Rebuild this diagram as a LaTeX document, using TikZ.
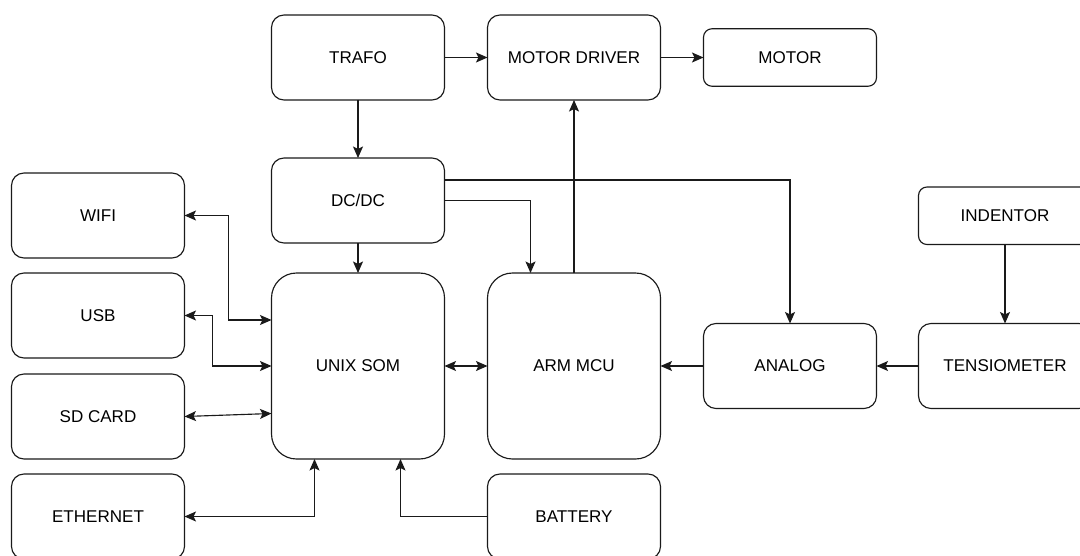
\documentclass[tikz,border=0pt]{standalone}
\usepackage{fontspec}
\setmainfont{Liberation Sans}
\usepackage{tikz}
\usetikzlibrary{
arrows.meta,
positioning
}
\definecolor{BDInk}{HTML}{000000}
\definecolor{BDLine}{HTML}{1A1A1A}
\tikzset{
bdblock/.style={draw=BDLine, line width=0.65pt, fill=white, rounded corners=2.5mm, align=center,
  minimum height=17mm, minimum width=34.6mm, outer sep=0pt, text=BDInk, font=\fontsize{9.7}{11}\selectfont},
bdflat/.style={bdblock, rounded corners=1.7mm, minimum height=11.5mm},
bdtall/.style={bdblock, rounded corners=5mm, minimum height=37.2mm},
bdarrow/.style={-{Stealth[length=2.3mm, width=2mm, inset=0.5mm]}, line width=0.65pt, draw=BDLine},
bdboth/.style={{Stealth[length=2.3mm, width=2mm, inset=0.5mm]}-{Stealth[length=2.3mm, width=2mm, inset=0.5mm]}, line width=0.65pt, draw=BDLine}
}

\begin{document}
\begin{tikzpicture}[node distance=8.6mm and 8.6mm]
\useasboundingbox (0,0) rectangle (21.6,-11.12);
\node[bdblock] (trafo) at (7.16,-1.15) {TRAFO};
\node[bdblock, right=of trafo] (mdrv) {MOTOR DRIVER};
\node[bdflat, right=of mdrv] (motor) {MOTOR};
\node[bdblock, below=11.6mm of trafo] (dcdc) {DC/DC};
\node[bdtall, below=6mm of dcdc] (unix) {UNIX SOM};
\node[bdtall, right=of unix] (arm) {ARM MCU};
\node[bdblock, below=3mm of arm] (battery) {BATTERY};
\node[bdblock, right=of arm] (analog) {ANALOG};
\node[bdblock, right=8.4mm of analog] (tensio) {TENSIOMETER};
\node[bdflat, above=15.8mm of tensio] (indentor) {INDENTOR};

\node[bdblock, anchor=north east] (usb) at ([xshift=-17.4mm]unix.north west) {USB};
\node[bdblock, above=3mm of usb] (wifi) {WIFI};
\node[bdblock, below=3.2mm of usb] (sdcard) {SD CARD};
\node[bdblock, below=3mm of sdcard] (eth) {ETHERNET};

\draw[bdarrow] (trafo) -- (mdrv);
\draw[bdarrow] (mdrv) -- (motor);
\draw[bdarrow] (trafo) -- (dcdc);
\draw[bdarrow] (dcdc) -- (unix);
\draw[bdarrow] ([yshift=4.1mm]dcdc.east) -| (analog.north);
\draw[bdarrow] (dcdc.east) -| ([xshift=8.6mm]arm.north west);
\draw[bdarrow] (arm.north) -- (mdrv.south);

\draw[bdboth] (wifi.east) -- ++(8.8mm,0) |- ([yshift=-9.4mm]unix.north west);
\draw[bdboth] (usb.east) -- ++(5.6mm,0) |- (unix.west);
\draw[bdboth] (sdcard.east) -- ([yshift=0.6mm]sdcard.east -| unix.west);
\draw[bdboth] (eth.east) -| ([xshift=8.6mm]unix.south west);
\draw[bdarrow] (battery.west) -| ([xshift=25.8mm]unix.south west);

\draw[bdboth] (unix) -- (arm);
\draw[bdarrow] (analog) -- (arm);
\draw[bdarrow] (tensio) -- (analog);
\draw[bdarrow] (indentor) -- (tensio);
\end{tikzpicture}
\end{document}
